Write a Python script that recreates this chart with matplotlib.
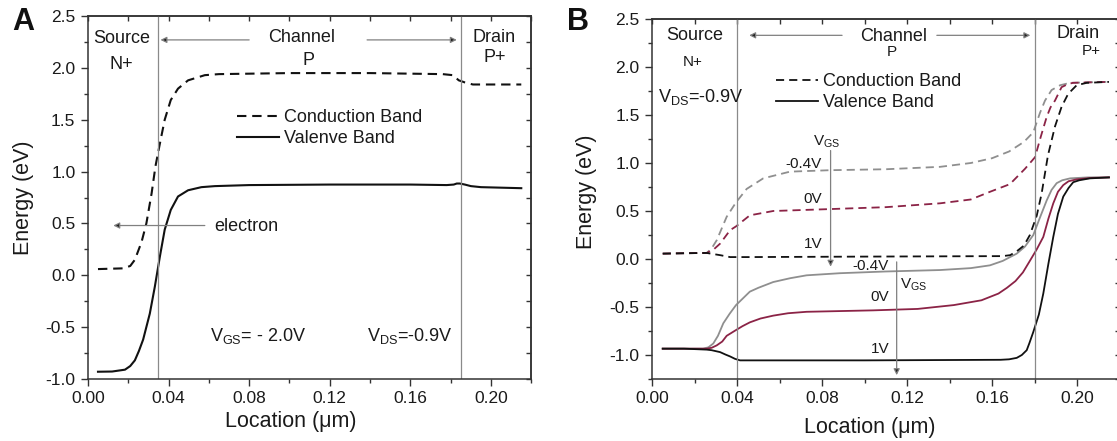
import matplotlib
matplotlib.use('Agg')
import matplotlib.pyplot as plt
from matplotlib.ticker import MultipleLocator, FormatStrFormatter, NullFormatter

plt.rcParams['font.family'] = ['Liberation Sans', 'DejaVu Sans']
plt.rcParams['mathtext.fontset'] = 'custom'
plt.rcParams['mathtext.rm'] = 'Liberation Sans'
plt.rcParams['axes.unicode_minus'] = False

# ---- panel A : V_GS = -2.0 V ----
a_cb_x = [0.005, 0.0175, 0.021, 0.0233, 0.0266, 0.029, 0.0316, 0.0335, 0.0357, 0.0381, 0.0411, 0.0447,
          0.0497, 0.058, 0.065, 0.10, 0.14, 0.176, 0.181, 0.184, 0.187, 0.191, 0.20, 0.215]
a_cb_y = [0.06, 0.067, 0.09, 0.15, 0.32, 0.50, 0.79, 1.05, 1.27, 1.50, 1.69, 1.80,
          1.88, 1.93, 1.94, 1.95, 1.95, 1.94, 1.93, 1.88, 1.86, 1.84, 1.84, 1.84]
a_vb_x = [0.005, 0.012, 0.0184, 0.021, 0.0233, 0.0253, 0.0274, 0.0307, 0.0332, 0.0357, 0.0381, 0.0411,
          0.0447, 0.0497, 0.0563, 0.063, 0.08, 0.12, 0.16, 0.178, 0.1815, 0.183, 0.1845, 0.187, 0.19,
          0.195, 0.205, 0.215]
a_vb_y = [-0.93, -0.928, -0.91, -0.875, -0.82, -0.73, -0.62, -0.37, -0.11, 0.18, 0.44, 0.63,
          0.76, 0.82, 0.85, 0.86, 0.87, 0.875, 0.875, 0.87, 0.875, 0.885, 0.885, 0.875, 0.86,
          0.85, 0.845, 0.84]

# ---- panel B : three gate voltages ----
b_vgs = ['-0.4V', '0V', '1V']
b_cb_x = {
    '-0.4V': [0.005, 0.015, 0.0257, 0.028, 0.0304, 0.0351, 0.0395, 0.0445, 0.0523, 0.0649, 0.0837, 0.11,
              0.1355, 0.15, 0.16, 0.168, 0.175, 0.1794, 0.1825, 0.1849, 0.188, 0.192, 0.1967, 0.205, 0.215],
    '0V': [0.005, 0.015, 0.0257, 0.029, 0.032, 0.0367, 0.0395, 0.046, 0.057, 0.0837, 0.11, 0.1355, 0.15,
           0.159, 0.1684, 0.1755, 0.1802, 0.183, 0.1857, 0.1875, 0.1896, 0.1927, 0.1955, 0.198, 0.205, 0.215],
    '1V': [0.005, 0.015, 0.0257, 0.032, 0.0367, 0.045, 0.10, 0.165, 0.1685, 0.1716, 0.175, 0.1778, 0.181,
           0.1833, 0.1863, 0.1896, 0.1927, 0.1958, 0.1998, 0.2045, 0.215],
}
b_cb_y = {
    '-0.4V': [0.056, 0.06, 0.063, 0.11, 0.195, 0.44, 0.59, 0.73, 0.84, 0.91, 0.925, 0.935,
              0.96, 1.00, 1.05, 1.12, 1.22, 1.32, 1.52, 1.65, 1.76, 1.81, 1.835, 1.84, 1.845],
    '0V': [0.056, 0.06, 0.063, 0.10, 0.16, 0.30, 0.34, 0.455, 0.50, 0.52, 0.54, 0.58, 0.62,
           0.70, 0.78, 0.94, 1.06, 1.28, 1.48, 1.58, 1.65, 1.79, 1.82, 1.835, 1.84, 1.845],
    '1V': [0.056, 0.06, 0.063, 0.04, 0.02, 0.02, 0.025, 0.03, 0.04, 0.08, 0.14, 0.25, 0.45,
           0.68, 1.08, 1.38, 1.585, 1.72, 1.81, 1.835, 1.845],
}
b_vb_x = {
    '-0.4V': [0.005, 0.015, 0.024, 0.0265, 0.0288, 0.031, 0.0335, 0.0365, 0.0395, 0.046, 0.05, 0.057,
              0.065, 0.0727, 0.0884, 0.11, 0.1355, 0.15, 0.159, 0.165, 0.1716, 0.1755, 0.1794, 0.1825,
              0.1857, 0.188, 0.1904, 0.193, 0.1967, 0.205, 0.215],
    '0V': [0.005, 0.015, 0.0257, 0.028, 0.0304, 0.033, 0.0351, 0.0395, 0.0425, 0.046, 0.051, 0.057,
           0.064, 0.0727, 0.104, 0.125, 0.142, 0.155, 0.163, 0.167, 0.171, 0.1745, 0.1775, 0.181,
           0.1841, 0.1865, 0.1888, 0.191, 0.1935, 0.196, 0.1998, 0.207, 0.215],
    '1V': [0.005, 0.015, 0.0257, 0.028, 0.032, 0.0345, 0.0367, 0.039, 0.0414, 0.10, 0.164, 0.168,
           0.1716, 0.174, 0.1763, 0.1775, 0.1794, 0.182, 0.1841, 0.1865, 0.1888, 0.191, 0.1935,
           0.196, 0.1982, 0.201, 0.206, 0.215],
}
b_vb_y = {
    '-0.4V': [-0.934, -0.934, -0.934, -0.92, -0.88, -0.80, -0.67, -0.57, -0.48, -0.34, -0.30, -0.24,
              -0.20, -0.17, -0.148, -0.13, -0.115, -0.095, -0.066, -0.02, 0.056, 0.13, 0.25, 0.43,
              0.61, 0.72, 0.79, 0.82, 0.84, 0.85, 0.85],
    '0V': [-0.934, -0.934, -0.934, -0.925, -0.90, -0.86, -0.80, -0.74, -0.70, -0.66, -0.62, -0.59,
           -0.565, -0.55, -0.535, -0.52, -0.48, -0.43, -0.36, -0.30, -0.23, -0.14, -0.03, 0.10,
           0.23, 0.42, 0.58, 0.70, 0.77, 0.81, 0.83, 0.845, 0.85],
    '1V': [-0.934, -0.934, -0.944, -0.95, -0.97, -0.995, -1.015, -1.04, -1.056, -1.056, -1.05, -1.045,
           -1.03, -1.0, -0.95, -0.88, -0.76, -0.58, -0.36, -0.05, 0.23, 0.47, 0.65,
           0.74, 0.80, 0.82, 0.84, 0.85],
}
b_colors = {'-0.4V': '#8f8f8f', '0V': '#8b2346', '1V': '#111111'}

txt = '#1a1a1a'
arrow_c = '#808080'
dash = (4.5, 2.8)


def style_axes(ax, ylo):
    ax.set_xlim(0, 0.22)
    ax.set_ylim(ylo, 2.5)
    ax.xaxis.set_major_locator(MultipleLocator(0.04))
    ax.xaxis.set_minor_locator(MultipleLocator(0.02))
    ax.yaxis.set_major_locator(MultipleLocator(0.5))
    ax.yaxis.set_minor_locator(MultipleLocator(0.25))
    ax.xaxis.set_major_formatter(FormatStrFormatter('%.2f'))
    ax.yaxis.set_major_formatter(FormatStrFormatter('%.1f'))
    for s in ax.spines.values():
        s.set_color('#333333')
        s.set_linewidth(1.1)
    ax.tick_params(which='major', direction='out', length=5, width=1, color='#333333',
                   labelsize=12.5, labelcolor=txt, pad=4)
    ax.tick_params(which='minor', direction='out', length=2.8, width=1, color='#333333')
    top = ax.secondary_xaxis('top')
    top.xaxis.set_major_locator(MultipleLocator(0.04))
    top.xaxis.set_minor_locator(MultipleLocator(0.02))
    top.xaxis.set_major_formatter(NullFormatter())
    top.tick_params(which='both', direction='in', length=3.5, width=1, color='#333333')
    top.spines['top'].set_linewidth(1.1)
    top.spines['top'].set_color('#333333')
    right = ax.secondary_yaxis('right')
    right.yaxis.set_major_locator(MultipleLocator(0.5))
    right.yaxis.set_minor_locator(MultipleLocator(0.25))
    right.yaxis.set_major_formatter(NullFormatter())
    right.tick_params(which='both', direction='in', length=3.5, width=1, color='#333333')
    right.spines['right'].set_linewidth(1.1)
    right.spines['right'].set_color('#333333')


def arrow(ax, start, end, lw=0.9):
    ax.annotate('', xy=end, xytext=start,
                arrowprops=dict(arrowstyle='-|>', color=arrow_c, lw=lw, mutation_scale=9,
                                shrinkA=0, shrinkB=0, fc='#222222', ec=arrow_c))


fig = plt.figure(figsize=(11.17, 4.41), dpi=100)
axA = fig.add_axes([0.0787, 0.1406, 0.397, 0.823])
axB = fig.add_axes([0.5838, 0.1406, 0.4185, 0.8163])

# ---------- A ----------
style_axes(axA, -1.0)
lcA, = axA.plot(a_cb_x, a_cb_y, color='#111111', lw=1.5, ls=(0, dash), label='Conduction Band')
lvA, = axA.plot(a_vb_x, a_vb_y, color='#111111', lw=1.5, label='Valenve Band')
axA.axvline(0.035, color='#8a8a8a', lw=0.9)
axA.axvline(0.185, color='#8a8a8a', lw=0.9)
axA.text(0.0166, 2.28, 'Source', ha='center', va='center', fontsize=13, color=txt)
axA.text(0.0166, 2.03, 'N+', ha='center', va='center', fontsize=13, color=txt)
axA.text(0.106, 2.29, 'Channel', ha='center', va='center', fontsize=13, color=txt)
axA.text(0.1095, 2.07, 'P', ha='center', va='center', fontsize=13, color=txt)
axA.text(0.2017, 2.29, 'Drain', ha='center', va='center', fontsize=13, color=txt)
axA.text(0.2017, 2.10, 'P+', ha='center', va='center', fontsize=13, color=txt)
arrow(axA, (0.08, 2.27), (0.036, 2.27))
arrow(axA, (0.1385, 2.27), (0.183, 2.27))
arrow(axA, (0.058, 0.48), (0.0126, 0.48))
axA.text(0.0626, 0.47, 'electron', ha='left', va='center', fontsize=13, color=txt)
axA.text(0.0608, -0.59, r'V$_{\mathregular{GS}}$= - 2.0V', ha='left', va='center', fontsize=13, color=txt)
axA.text(0.1385, -0.59, r'V$_{\mathregular{DS}}$=-0.9V', ha='left', va='center', fontsize=13, color=txt)
axA.legend(handles=[lcA, lvA], loc='upper left', bbox_to_anchor=(0.074, 1.60),
           bbox_transform=axA.transData, frameon=False, fontsize=13, handlelength=2.3,
           handletextpad=0.3, labelspacing=0.2, borderpad=0, borderaxespad=0, labelcolor=txt)
axA.set_xlabel('Location (\u03bcm)', fontsize=15.5, color=txt)
axA.set_ylabel('Energy (eV)', fontsize=15.5, color=txt)
axA.xaxis.set_label_coords(0.458, -0.117)
axA.xaxis.label.set_va('center')
axA.yaxis.set_label_coords(-0.146, 0.50)
axA.yaxis.label.set_va('center')

# ---------- B ----------
style_axes(axB, -1.25)
handles = {}
for v in b_vgs:
    c = b_colors[v]
    lc, = axB.plot(b_cb_x[v], b_cb_y[v], color=c, lw=1.3, ls=(0, dash), label='Conduction Band')
    lv, = axB.plot(b_vb_x[v], b_vb_y[v], color=c, lw=1.3, label='Valence Band')
    handles[v] = (lc, lv)
axB.axvline(0.04, color='#8a8a8a', lw=0.9)
axB.axvline(0.18, color='#8a8a8a', lw=0.9)
axB.text(0.02, 2.33, 'Source', ha='center', va='center', fontsize=13, color=txt)
axB.text(0.0192, 2.05, 'N+', ha='center', va='center', fontsize=11, color=txt)
axB.text(0.003, 1.69, r'V$_{\mathregular{DS}}$=-0.9V', ha='left', va='center', fontsize=13, color=txt)
axB.text(0.1138, 2.32, 'Channel', ha='center', va='center', fontsize=13, color=txt)
axB.text(0.1126, 2.16, 'P', ha='center', va='center', fontsize=11, color=txt)
axB.text(0.2007, 2.35, 'Drain', ha='center', va='center', fontsize=13, color=txt)
axB.text(0.2067, 2.17, 'P+', ha='center', va='center', fontsize=11, color=txt)
arrow(axB, (0.0894, 2.33), (0.0457, 2.33))
arrow(axB, (0.134, 2.33), (0.178, 2.33))
axB.text(0.0755, 1.22, r'V$_{\mathregular{GS}}$', ha='left', va='center', fontsize=11, color=txt)
for v, yy in zip(b_vgs, [0.99, 0.63, 0.16]):
    axB.text(0.080, yy, v, ha='right', va='center', fontsize=11, color=txt)
arrow(axB, (0.084, 1.13), (0.084, -0.08))
axB.text(0.1166, -0.27, r'V$_{\mathregular{GS}}$', ha='left', va='center', fontsize=11, color=txt)
for v, yy in zip(b_vgs, [-0.075, -0.40, -0.94]):
    axB.text(0.1115, yy, v, ha='right', va='center', fontsize=11, color=txt)
arrow(axB, (0.1151, -0.03), (0.1151, -1.21))
axB.legend(handles=list(handles['1V']), loc='upper left', bbox_to_anchor=(0.0583, 1.935),
           bbox_transform=axB.transData, frameon=False, fontsize=13, handlelength=2.3,
           handletextpad=0.3, labelspacing=0.2, borderpad=0, borderaxespad=0, labelcolor=txt)
axB.set_xlabel('Location (\u03bcm)', fontsize=15.5, color=txt)
axB.set_ylabel('Energy (eV)', fontsize=15.5, color=txt)
axB.xaxis.set_label_coords(0.466, -0.136)
axB.xaxis.label.set_va('center')
axB.yaxis.set_label_coords(-0.141, 0.52)
axB.yaxis.label.set_va('center')

fig.text(0.011, 0.985, 'A', fontsize=22, fontweight='bold', va='top', ha='left', color='#111111')
fig.text(0.508, 0.985, 'B', fontsize=22, fontweight='bold', va='top', ha='left', color='#111111')

fig.savefig('out.png', dpi=100)
